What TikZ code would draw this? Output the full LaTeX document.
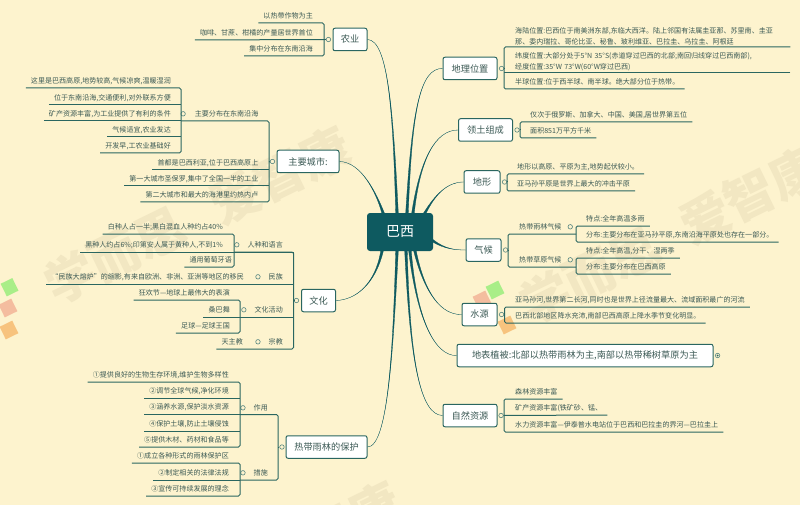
\documentclass[tikz,border=0pt]{standalone}
\usepackage{fontspec}
\setmainfont{Noto Sans CJK SC}
\usetikzlibrary{positioning, calc}
\definecolor{paper}{HTML}{FDF3CE}
\definecolor{pine}{HTML}{2A6660}
\definecolor{rootfill}{HTML}{0E5A60}
\definecolor{inkgray}{HTML}{3C5A55}
\definecolor{stamp}{HTML}{F2E7C2}
\tikzset{
  x = 1pt, y = -1pt,
  every node/.style = {text = inkgray},
  leaf/.style = {inner xsep = 5pt, inner ysep = 3pt, text height = 6.5pt, text depth = 1.5pt,
    font = \fontsize{7.05}{10.5}\selectfont},
  leafl/.style = {leaf, anchor = south east},
  leafr/.style = {leaf, anchor = south west},
  leaflong/.style = {anchor = south west, inner xsep = 5pt, inner ysep = 2pt, text width = 270pt,
    align = left, font = \fontsize{7.05}{10.5}\selectfont},
  topic/.style = {draw = pine, fill = white, line width = 1pt, rounded corners = 2pt,
    inner sep = 0pt, minimum height = 22.5pt, font = \fontsize{9.2}{11}\selectfont},
  root/.style = {fill = rootfill, rounded corners = 3pt, text = white, inner sep = 0pt,
    minimum width = 66pt, minimum height = 38pt, font = \fontsize{14}{16}\selectfont},
  fold/.style = {circle, draw = pine!80, fill = paper, line width = 0.6pt,
    minimum size = 4.5pt, inner sep = 0pt},
  twig/.style = {draw = pine, line width = 1pt, rounded corners = 1.5pt},
  spoke/.style = {draw = rootfill, fill = rootfill, line width = 0.3pt},
  stampword/.style = {text = stamp, rotate = 26, font = \fontsize{50}{50}\bfseries\selectfont}
}
\newcommand{\spokeline}[5]{\draw [spoke] ([xshift = #2 - 1.3]#1) .. controls (#4) and (#5) .. (#3)
  .. controls (#5) and (#4) .. ([xshift = #2 + 1.3]#1) -- cycle;}

\begin{document}
\begin{tikzpicture}

\fill [paper] (0, 0) rectangle (800, 505);

% watermark
\begin{scope}
\clip (0, 0) rectangle (800, 505);
\node [stampword] (stampa) at (115, 255) {学而思};
\node [stampword] (stampb) at (280, 175) {爱智康};
\node [stampword] (stampc) at (590, 275) {学而思};
\node [stampword] (stampd) at (750, 195) {爱智康};
\node [stampword] (stampe) at (330, 530) {爱智康};
\fill [green!30!stamp, rotate around = {26:(10, 287)}] (3, 280) rectangle (16, 294);
\fill [red!18!stamp, rotate around = {26:(8, 308)}] (1, 301) rectangle (15, 315);
\fill [orange!35!stamp, rotate around = {26:(9, 330)}] (2, 323) rectangle (16, 337);
\fill [green!30!stamp, rotate around = {26:(495, 290)}] (488, 283) rectangle (502, 297);
\fill [red!18!stamp, rotate around = {26:(482, 300)}] (475, 293) rectangle (489, 307);
\fill [orange!35!stamp, rotate around = {26:(507, 325)}] (500, 318) rectangle (514, 332);
\end{scope}

% main topics
\node [root] (brazil) at (400, 232) {巴西};
\node [topic, minimum width = 34pt] (agri) at (350, 39.5) {农业};
\node [topic, minimum width = 62pt] (city) at (308, 161.5) {主要城市:};
\node [topic, minimum width = 34pt] (culture) at (318.5, 300.5) {文化};
\node [topic, minimum width = 81pt] (forest) at (326.5, 447) {热带雨林的保护};
\node [topic, minimum width = 54pt] (place) at (470, 68.5) {地理位置};
\node [topic, minimum width = 54pt] (land) at (485.5, 130) {领土组成};
\node [topic, minimum width = 36pt] (relief) at (482, 182) {地形};
\node [topic, minimum width = 35pt] (climate) at (483.5, 250) {气候};
\node [topic, minimum width = 35pt] (water) at (479.5, 314.5) {水源};
\node [topic, minimum width = 256pt] (plant) at (585, 355.5) {地表植被:北部以热带雨林为主,南部以热带稀树草原为主};
\node [topic, minimum width = 54pt] (nature) at (470, 415.5) {自然资源};

% fold marks
\node [fold, left = 1.5pt of agri] (agrifold) {};
\node [fold, left = 1.5pt of city] (cityfold) {};
\node [fold, left = 2pt of culture] (culturefold) {};
\node [fold, left = 1pt of forest] (forestfold) {};
\node [fold, right = 1.5pt of place] (placefold) {};
\node [fold, right = 1.5pt of land] (landfold) {};
\node [fold, right = 1.5pt of relief] (relieffold) {};
\node [fold, right = 1.5pt of climate] (climatefold) {};
\node [fold, right = 1.5pt of water] (waterfold) {};
\node [fold, right = 1.5pt of plant] (plantfold) {};
\node [fold, right = 1pt of nature] (naturefold) {};
\fill [pine] (plantfold) circle (1pt);

% agriculture
\node [leafl] (agria) at (318, 23) {以热带作物为主};
\node [leafl] (agrib) at (318, 40) {咖啡、甘蔗、柑橘的产量居世界首位};
\node [leafl] (agric) at (318, 56) {集中分布在东南沿海};
\coordinate (agrijoin) at (324, 40);
\draw [twig] (agria.south west) -| (agrijoin) |- (agric.south west);
\draw [twig] (agrib.south west) -- (agrifold.west);

% cities
\node [leafl] (cityhub) at (263.5, 121) {主要分布在东南沿海};
\node [leafl] (citya) at (263.5, 170) {首都是巴西利亚,位于巴西高原上};
\node [leafl] (cityb) at (263.5, 186) {第一大城市圣保罗,集中了全国一半的工业};
\node [leafl] (cityc) at (263.5, 202) {第二大城市和最大的海港里约热内卢};
\node [fold, left = 4pt of cityhub] (cityhubfold) {};
\node [leafl] (hubb) at (176, 105) {位于东南沿海,交通便利,对外联系方便};
\node [leafl] (huba) at (176, 88) {这里是巴西高原,地势较高,气候凉爽,温暖湿润};
\node [leafl] (hubc) at (176, 121) {矿产资源丰富,为工业提供了有利的条件};
\node [leafl] (hubd) at (176, 137) {气候适宜,农业发达};
\node [leafl] (hube) at (176, 153) {开发早,工农业基础好};
\coordinate (cityjoin) at (269, 162);
\coordinate (hubjoin) at (181, 121);
\draw [twig] (cityhub.south east -| hubjoin) -| (cityjoin) |- (cityc.south west);
\draw [twig] (cityjoin) -- (cityfold.west);
\draw [twig] (citya.south west) -- (citya.south west -| cityjoin);
\draw [twig] (cityb.south west) -- (cityb.south west -| cityjoin);
\draw [twig] (huba.south west) -| (hubjoin) |- (hube.south west);
\draw [twig] (hubb.south west) -- (hubb.south west -| hubjoin);
\draw [twig] (hubc.south west) -- (hubjoin);
\draw [twig] (hubd.south west) -- (hubd.south west -| hubjoin);

% culture
\node [leafl] (race) at (288, 252) {人种和语言};
\node [leafl] (nation) at (288, 284) {民族};
\node [leafl] (event) at (288, 317) {文化活动};
\node [leafl] (faith) at (288, 349) {宗教};
\node [fold, left = 3pt of race] (racefold) {};
\node [fold, left = 3pt of nation] (nationfold) {};
\node [fold, left = 3pt of event] (eventfold) {};
\node [fold, left = 3pt of faith] (faithfold) {};
\node [leafl] (racea) at (228, 234) {白种人占一半;黑白混血人种约占40\%};
\node [leafl] (raceb) at (228, 252) {黑种人约占6\%;印第安人属于黄种人,不到1\%};
\node [leafl] (racec) at (237, 267) {通用葡萄牙语};
\node [leafl] (nationa) at (249, 284) {“民族大熔炉”的缩影,有来自欧洲、非洲、亚洲等地区的移民};
\node [leafl] (eventa) at (235, 300) {狂欢节—地球上最伟大的表演};
\node [leafl] (eventb) at (235, 317) {桑巴舞};
\node [leafl] (eventc) at (235, 333) {足球—足球王国};
\node [leafl] (faitha) at (248, 349) {天主教};
\coordinate (culturejoin) at (293.5, 300.5);
\coordinate (racejoin) at (234, 252);
\coordinate (eventjoin) at (240, 317);
\draw [twig] (raceb.south west |- race.south) -- (race.south -| culturejoin);
\draw [twig] (race.south -| culturejoin) -- (culturejoin);
\draw [twig] (racejoin) -- (race.south -| culturejoin) -- (faith.south -| culturejoin) -- (faitha.south west);
\draw [twig] (culturejoin) -- (culturefold.west);
\draw [twig] (nationa.south west) -- (nationa.south west -| culturejoin);
\draw [twig] (eventb.south west) -- (eventb.south west -| culturejoin);
\draw [twig] (racea.south west) -| (racejoin) |- (racec.south west);
\draw [twig] (eventa.south west) -| (eventjoin) |- (eventc.south west);

% rain forest
\node [leafl] (role) at (273, 415) {作用};
\node [leafl] (step) at (273, 480) {措施};
\node [fold, left = 3pt of role] (rolefold) {};
\node [fold, left = 3pt of step] (stepfold) {};
\node [leafl] (rolea) at (234, 382) {①提供良好的生物生存环境,维护生物多样性};
\node [leafl] (roleb) at (234, 398) {②调节全球气候,净化环境};
\node [leafl] (rolec) at (234, 414.5) {③涵养水源,保护淡水资源};
\node [leafl] (roled) at (234, 431) {④保护土壤,防止土壤侵蚀};
\node [leafl] (rolee) at (234, 447) {⑤提供木材、药材和食品等};
\node [leafl] (stepa) at (234, 463) {①成立各种形式的雨林保护区};
\node [leafl] (stepb) at (234, 480) {②制定相关的法律法规};
\node [leafl] (stepc) at (234, 496) {③宣传可持续发展的理念};
\coordinate (forestjoin) at (278, 447);
\coordinate (rolejoin) at (240, 414.5);
\coordinate (stepjoin) at (240, 480);
\draw [twig] (rolejoin) -| (forestjoin) |- (stepjoin);
\draw [twig] (forestjoin) -- (forestfold.west);
\draw [twig] (rolea.south west) -| (rolejoin) |- (rolee.south west);
\draw [twig] (roleb.south west) -- (roleb.south west -| rolejoin);
\draw [twig] (rolec.south west) -- (rolejoin);
\draw [twig] (roled.south west) -- (roled.south west -| rolejoin);
\draw [twig] (stepa.south west) -| (stepjoin) |- (stepc.south west);
\draw [twig] (stepb.south west) -- (stepjoin);

% position
\node [leaflong] (placea) at (510, 47) {海陆位置:巴西位于南美洲东部,东临大西洋。陆上邻国有法属圭亚那、苏里南、圭亚\\那、委内瑞拉、哥伦比亚、秘鲁、玻利维亚、巴拉圭、乌拉圭、阿根廷};
\node [leaflong] (placeb) at (510, 73) {纬度位置:大部分处于5°N~35°S(赤道穿过巴西的北部;南回归线穿过巴西南部),\\经度位置:35°W~73°W(60°W穿过巴西)};
\node [leafr] (placec) at (510, 89) {半球位置:位于西半球、南半球。绝大部分位于热带。};
\coordinate (placejoin) at (504, 68.5);
\draw [twig] (placea.south east) -| (placejoin) |- (placec.south east);
\draw [twig] (placeb.south east) -- (placeb.south east -| placejoin);
\draw [twig] (placejoin) -- (placefold.east);

% territory
\node [leafr] (landa) at (525, 122) {仅次于俄罗斯、加拿大、中国、美国,居世界第五位};
\node [leafr] (landb) at (525, 138) {面积851万平方千米};
\coordinate (landjoin) at (520, 130);
\draw [twig] (landa.south east) -| (landjoin) |- (landb.south east);
\draw [twig] (landjoin) -- (landfold.east);

% relief
\node [leafr] (reliefa) at (512, 174) {地形以高原、平原为主,地势起伏较小。};
\node [leafr] (reliefb) at (512, 191) {亚马孙平原是世界上最大的冲击平原};
\coordinate (reliefjoin) at (507, 182);
\draw [twig] (reliefa.south east) -| (reliefjoin) |- (reliefb.south east);
\draw [twig] (reliefjoin) -- (relieffold.east);

% climate
\node [leafr] (wet) at (514, 234) {热带雨林气候};
\node [leafr] (dry) at (514, 267) {热带草原气候};
\node [fold, right = 1pt of wet] (wetfold) {};
\node [fold, right = 1pt of dry] (dryfold) {};
\node [leafr] (weta) at (581, 226) {特点:全年高温多雨};
\node [leafr] (wetb) at (581, 242) {分布:主要分布在亚马孙平原,东南沿海平原处也存在一部分。};
\node [leafr] (drya) at (581, 258) {特点:全年高温,分干、湿两季};
\node [leafr] (dryb) at (581, 274) {分布:主要分布在巴西高原};
\coordinate (climatejoin) at (508, 250);
\coordinate (wetjoin) at (576, 234);
\coordinate (dryjoin) at (576, 267);
\draw [twig] (wetjoin) -| (climatejoin) |- (dryjoin);
\draw [twig] (climatejoin) -- (climatefold.east);
\draw [twig] (weta.south east) -| (wetjoin) |- (wetb.south east);
\draw [twig] (drya.south east) -| (dryjoin) |- (dryb.south east);

% water
\node [leafr] (watera) at (510, 307) {亚马孙河,世界第二长河,同时也是世界上径流量最大、流域面积最广的河流};
\node [leafr] (waterb) at (510, 323) {巴西北部地区降水充沛,南部巴西高原上降水季节变化明显。};
\coordinate (waterjoin) at (504.5, 315);
\draw [twig] (watera.south east) -| (waterjoin) |- (waterb.south east);
\draw [twig] (waterjoin) -- (waterfold.east);

% resources
\node [leafr] (naturea) at (510, 399) {森林资源丰富};
\node [leafr] (natureb) at (510, 415) {矿产资源丰富(铁矿砂、锰、};
\node [leafr] (naturec) at (510, 432) {水力资源丰富—伊泰普水电站位于巴西和巴拉圭的界河—巴拉圭上};
\coordinate (naturejoin) at (504, 415);
\draw [twig] (naturea.south east) -| (naturejoin) |- (naturec.south east);
\draw [twig] (natureb.south east) -- (naturefold.east);

% spokes
\spokeline{brazil.north}{-17}{city.east}{377, 195}{362, 162}
\spokeline{brazil.north}{-3}{agri.east}{393, 110}{388, 40}
\spokeline{brazil.north}{7}{place.west}{412, 110}{420, 68}
\spokeline{brazil.north}{13}{land.west}{420, 160}{435, 130}
\spokeline{brazil.north}{25}{relief.west}{435, 195}{447, 182}
\spokeline{brazil.south}{-18}{culture.east}{375, 285}{355, 300}
\spokeline{brazil.south}{-3}{forest.east}{393, 350}{388, 447}
\spokeline{brazil.south}{6}{nature.west}{410, 360}{420, 415}
\spokeline{brazil.south}{10}{plant.west}{417, 320}{435, 356}
\spokeline{brazil.south}{15}{water.west}{425, 295}{442, 315}
\draw [spoke] ([yshift = -7.7]brazil.east) .. controls (445, 249) and (455, 250) .. (climate.west)
  .. controls (455, 250) and (445, 249) .. ([yshift = -10.3]brazil.east) -- cycle;

\end{tikzpicture}
\end{document}
